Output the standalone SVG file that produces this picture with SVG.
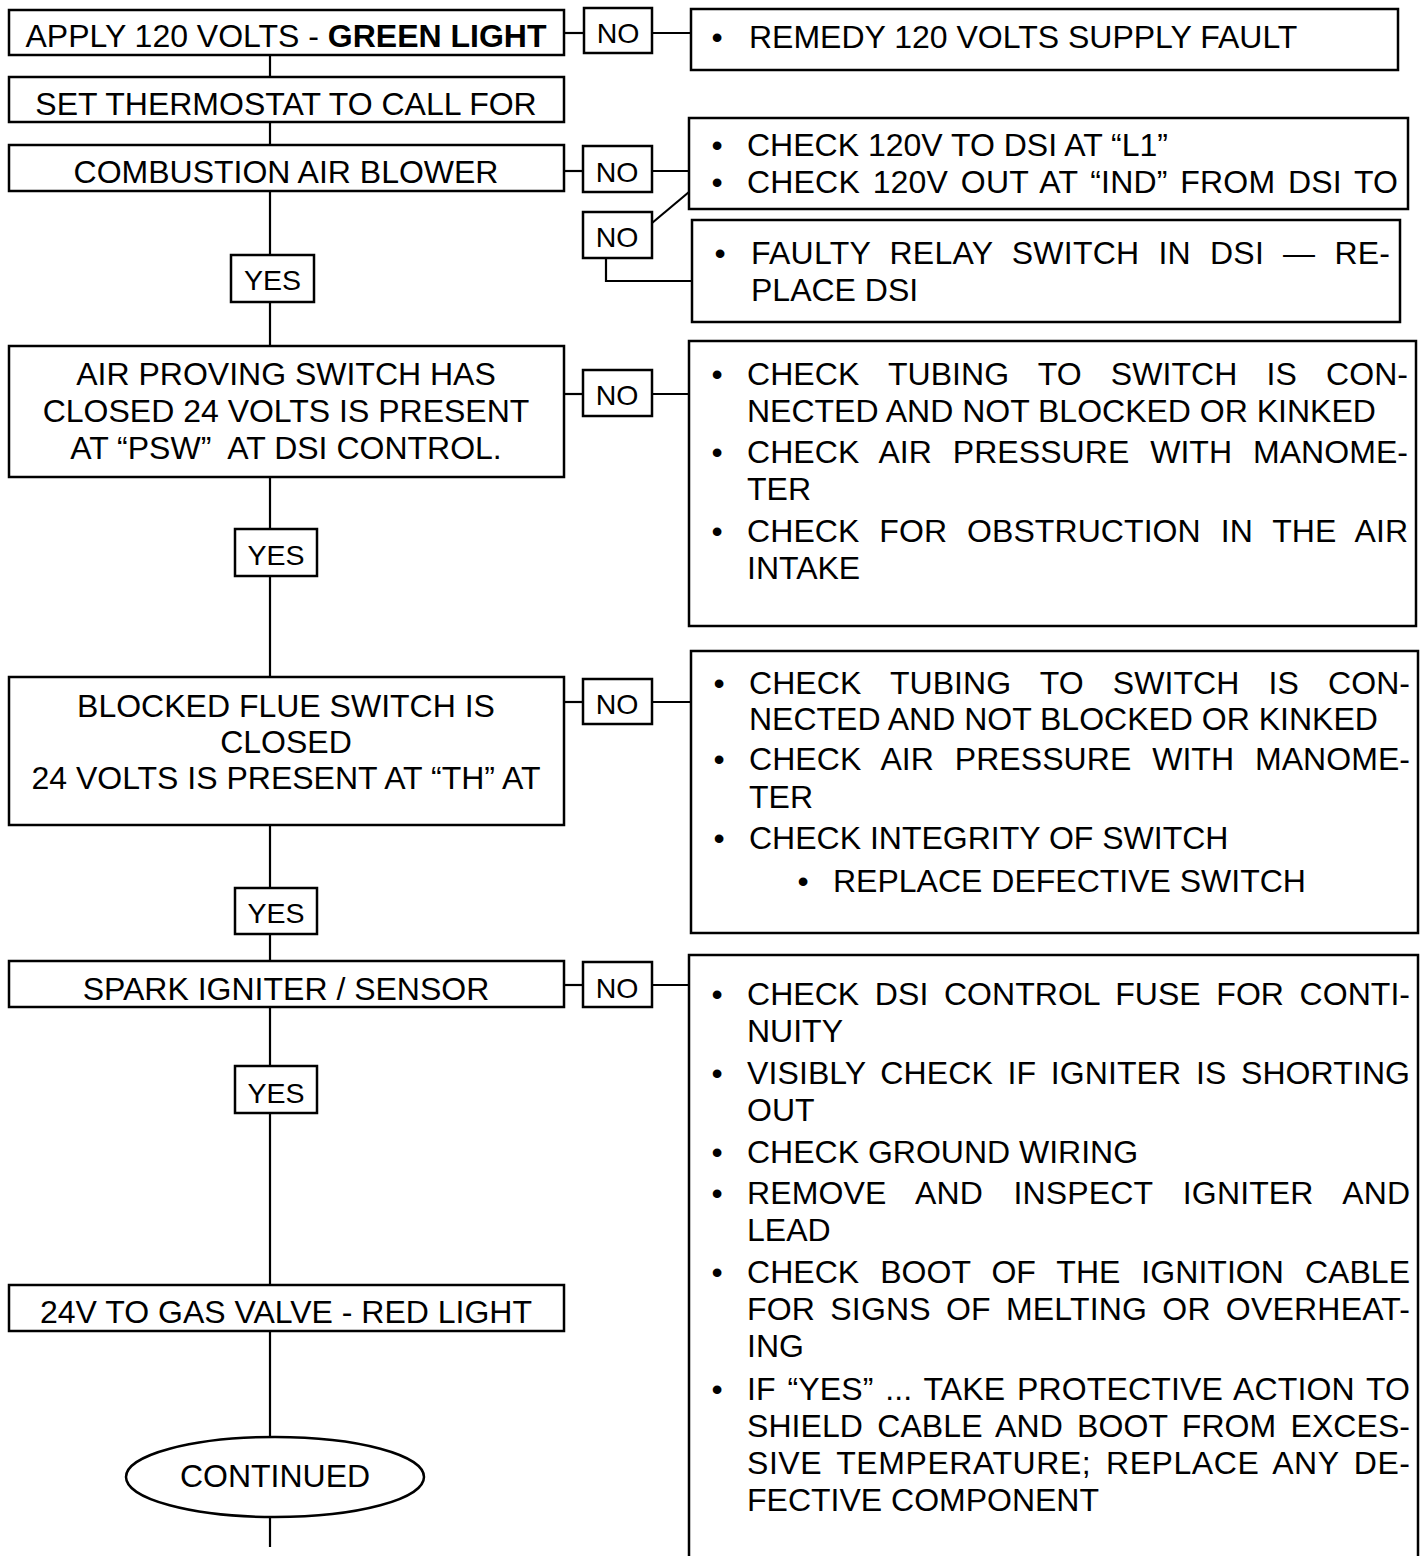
<svg xmlns="http://www.w3.org/2000/svg" width="1428" height="1556" viewBox="0 0 1428 1556">
<style>
rect, ellipse { fill: #fff; stroke: #000; stroke-width: 2.5; }
.c line, .c polyline { stroke: #000; stroke-width: 2.2; fill: none; }
text { font-family: "Liberation Sans", Arial, sans-serif; font-size: 32px; fill: #000; }
.m { text-anchor: middle; }
.s { font-size: 28.5px; text-anchor: middle; }
.b { text-anchor: middle; }
</style>
<rect width="1428" height="1556" style="fill:#fff;stroke:none"/>
<g class="c">
<line x1="270" y1="54" x2="270" y2="77"/>
<line x1="270" y1="122" x2="270" y2="145"/>
<line x1="270" y1="191" x2="270" y2="255"/>
<line x1="270" y1="302" x2="270" y2="346"/>
<line x1="270" y1="477" x2="270" y2="529"/>
<line x1="270" y1="576" x2="270" y2="677"/>
<line x1="270" y1="825" x2="270" y2="888"/>
<line x1="270" y1="934" x2="270" y2="961"/>
<line x1="270" y1="1007" x2="270" y2="1066"/>
<line x1="270" y1="1113" x2="270" y2="1284"/>
<line x1="270" y1="1331" x2="270" y2="1437"/>
<line x1="270" y1="1517" x2="270" y2="1547"/>
<line x1="564" y1="33" x2="584" y2="33"/>
<line x1="652" y1="33" x2="691" y2="33"/>
<line x1="564" y1="171" x2="583" y2="171"/>
<line x1="652" y1="171" x2="689" y2="171"/>
<line x1="652" y1="223" x2="689" y2="192"/>
<polyline points="606,258 606,281 692,281"/>
<line x1="564" y1="394" x2="583" y2="394"/>
<line x1="652" y1="394" x2="689" y2="394"/>
<line x1="564" y1="702" x2="583" y2="702"/>
<line x1="652" y1="702" x2="691" y2="702"/>
<line x1="564" y1="985" x2="583" y2="985"/>
<line x1="652" y1="985" x2="689" y2="985"/>
</g>
<g id="n-apply"><rect x="9" y="10" width="555" height="45"/><text x="286" y="47" class="m">APPLY 120 VOLTS - <tspan font-weight="bold">GREEN LIGHT</tspan></text></g>
<g id="n-set"><rect x="9" y="77" width="555" height="45"/><text x="286" y="115" class="m">SET THERMOSTAT TO CALL FOR</text></g>
<g id="n-comb"><rect x="9" y="145" width="555" height="46"/><text x="286" y="183" class="m">COMBUSTION AIR BLOWER</text></g>
<g id="n-air"><rect x="9" y="346" width="555" height="131"/>
<text x="286" y="385" class="m">AIR PROVING SWITCH HAS</text>
<text x="286" y="422" class="m">CLOSED 24 VOLTS IS PRESENT</text>
<text x="286" y="459" class="m">AT “PSW”&#160; AT DSI CONTROL.</text></g>
<g id="n-flue"><rect x="9" y="677" width="555" height="148"/>
<text x="286" y="717" class="m">BLOCKED FLUE SWITCH IS</text>
<text x="286" y="753" class="m">CLOSED</text>
<text x="286" y="789" class="m">24 VOLTS IS PRESENT AT “TH” AT</text></g>
<g id="n-spark"><rect x="9" y="961" width="555" height="46"/><text x="286" y="1000" class="m">SPARK IGNITER / SENSOR</text></g>
<g id="n-gas"><rect x="9" y="1285" width="555" height="46"/><text x="286" y="1323" class="m">24V TO GAS VALVE - RED LIGHT</text></g>
<g id="n-cont"><ellipse cx="275" cy="1477" rx="149" ry="40"/><text x="275" y="1487" class="m">CONTINUED</text></g>
<g id="n-no1"><rect x="584" y="8" width="68" height="45"/><text x="618" y="43" class="s">NO</text></g>
<g id="n-no2"><rect x="583" y="146" width="69" height="46"/><text x="617" y="182" class="s">NO</text></g>
<g id="n-no3"><rect x="583" y="212" width="69" height="46"/><text x="617" y="247" class="s">NO</text></g>
<g id="n-no4"><rect x="583" y="370" width="69" height="46"/><text x="617" y="405" class="s">NO</text></g>
<g id="n-no5"><rect x="583" y="679" width="69" height="45"/><text x="617" y="714" class="s">NO</text></g>
<g id="n-no6"><rect x="583" y="962" width="69" height="45"/><text x="617" y="998" class="s">NO</text></g>
<g id="n-yes1"><rect x="231" y="255" width="83" height="47"/><text x="272.5" y="290" class="s">YES</text></g>
<g id="n-yes2"><rect x="235" y="529" width="82" height="47"/><text x="276" y="565" class="s">YES</text></g>
<g id="n-yes3"><rect x="235" y="888" width="82" height="46"/><text x="276" y="923" class="s">YES</text></g>
<g id="n-yes4"><rect x="235" y="1066" width="82" height="47"/><text x="276" y="1103" class="s">YES</text></g>
<g id="n-r1"><rect x="691" y="9" width="707" height="61"/>
<text x="717" y="48" class="b">•</text><text x="749" y="48">REMEDY 120 VOLTS SUPPLY FAULT</text></g>
<g id="n-r2"><rect x="689" y="118" width="719" height="91"/>
<text x="717" y="156" class="b">•</text><text x="747" y="156">CHECK 120V TO DSI AT “L1”</text>
<text x="717" y="193" class="b">•</text><text x="747" y="193" word-spacing="3.6" textLength="651" lengthAdjust="spacing">CHECK 120V OUT AT “IND” FROM DSI TO</text></g>
<g id="n-r3"><rect x="692" y="220" width="708" height="102"/>
<text x="720" y="264" class="b">•</text><text x="751" y="264" word-spacing="9.9" textLength="639" lengthAdjust="spacing">FAULTY RELAY SWITCH IN DSI — RE-</text>
<text x="751" y="301">PLACE DSI</text></g>
<g id="n-r4"><rect x="689" y="341" width="727" height="285"/>
<text x="717" y="385" class="b">•</text><text x="747" y="385" word-spacing="20.2" textLength="661" lengthAdjust="spacing">CHECK TUBING TO SWITCH IS CON-</text>
<text x="747" y="422">NECTED AND NOT BLOCKED OR KINKED</text>
<text x="717" y="463" class="b">•</text><text x="747" y="463" word-spacing="11.9" textLength="661" lengthAdjust="spacing">CHECK AIR PRESSURE WITH MANOME-</text>
<text x="747" y="500">TER</text>
<text x="717" y="542" class="b">•</text><text x="747" y="542" word-spacing="10.9" textLength="661" lengthAdjust="spacing">CHECK FOR OBSTRUCTION IN THE AIR</text>
<text x="747" y="579">INTAKE</text></g>
<g id="n-r5"><rect x="691" y="651" width="727" height="282"/>
<text x="719" y="694" class="b">•</text><text x="749" y="694" word-spacing="20.2" textLength="661" lengthAdjust="spacing">CHECK TUBING TO SWITCH IS CON-</text>
<text x="749" y="730">NECTED AND NOT BLOCKED OR KINKED</text>
<text x="719" y="770" class="b">•</text><text x="749" y="770" word-spacing="11.9" textLength="661" lengthAdjust="spacing">CHECK AIR PRESSURE WITH MANOME-</text>
<text x="749" y="808">TER</text>
<text x="719" y="849" class="b">•</text><text x="749" y="849">CHECK INTEGRITY OF SWITCH</text>
<text x="803" y="892" class="b">•</text><text x="833" y="892">REPLACE DEFECTIVE SWITCH</text></g>
<g id="n-r6"><rect x="689" y="955" width="729" height="640"/>
<text x="717" y="1005" class="b">•</text><text x="747" y="1005" word-spacing="6.7" textLength="663" lengthAdjust="spacing">CHECK DSI CONTROL FUSE FOR CONTI-</text>
<text x="747" y="1042">NUITY</text>
<text x="717" y="1084" class="b">•</text><text x="747" y="1084" word-spacing="5.6" textLength="663" lengthAdjust="spacing">VISIBLY CHECK IF IGNITER IS SHORTING</text>
<text x="747" y="1121">OUT</text>
<text x="717" y="1163" class="b">•</text><text x="747" y="1163">CHECK GROUND WIRING</text>
<text x="717" y="1204" class="b">•</text><text x="747" y="1204" word-spacing="21.3" textLength="663" lengthAdjust="spacing">REMOVE AND INSPECT IGNITER AND</text>
<text x="747" y="1241">LEAD</text>
<text x="717" y="1283" class="b">•</text><text x="747" y="1283" word-spacing="12" textLength="663" lengthAdjust="spacing">CHECK BOOT OF THE IGNITION CABLE</text>
<text x="747" y="1320" word-spacing="6" textLength="663" lengthAdjust="spacing">FOR SIGNS OF MELTING OR OVERHEAT-</text>
<text x="747" y="1357">ING</text>
<text x="717" y="1400" class="b">•</text><text x="747" y="1400" word-spacing="2.6" textLength="663" lengthAdjust="spacing">IF “YES” ... TAKE PROTECTIVE ACTION TO</text>
<text x="747" y="1437" word-spacing="5.3" textLength="663" lengthAdjust="spacing">SHIELD CABLE AND BOOT FROM EXCES-</text>
<text x="747" y="1474" word-spacing="5.2" textLength="663" lengthAdjust="spacing">SIVE TEMPERATURE; REPLACE ANY DE-</text>
<text x="747" y="1511">FECTIVE COMPONENT</text></g>
</svg>
